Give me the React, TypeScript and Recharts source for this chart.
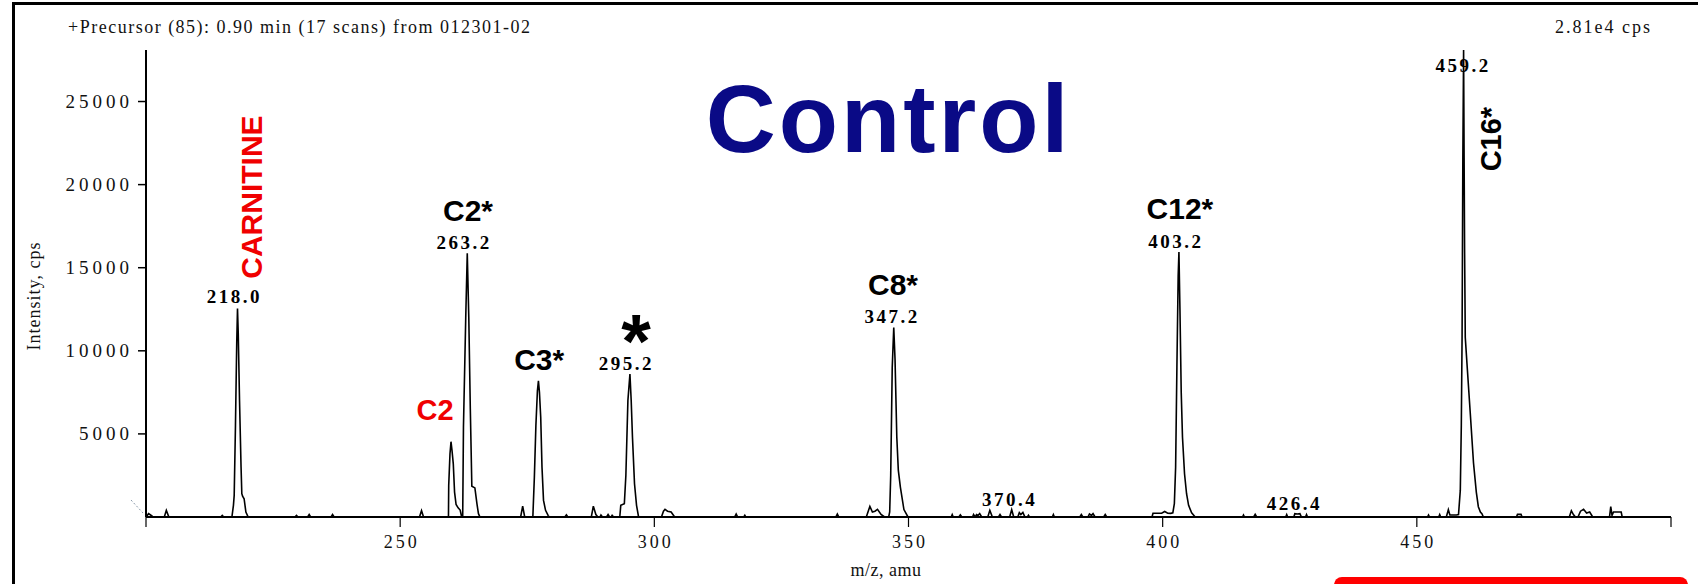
import { LineChart, Line, XAxis, YAxis, ReferenceDot } from "recharts"

type Pt = [number, number]

// axis setup
const xTicks = [200, 250, 300, 350, 400, 450, 500]
const xLabeled = [250, 300, 350, 400, 450]
const yTicks = [5000, 10000, 15000, 20000, 25000]
const fullScale = 28100

// baseline noise, low mass end
const noiseLow: Pt[] = [
  [200, 0], [200.5, 200], [200.9, 120], [201.4, 0],
  [203.6, 0], [204.0, 400], [204.5, 0],
  [214.7, 0], [215.0, 100], [215.3, 0],
  [229.3, 0], [229.6, 100], [229.9, 0],
  [231.8, 0], [232.1, 150], [232.4, 0],
  [236.4, 0], [236.7, 150], [237.0, 0],
  [253.8, 0], [254.2, 380], [254.6, 0],
]

const peak218: Pt[] = [
  [216.9, 0], [217.2, 700], [217.35, 1300], [217.6, 5500], [217.85, 10500], [218.0, 12550],
  [218.15, 11000], [218.4, 7000], [218.7, 3000], [218.85, 1400], [219.0, 1250], [219.3, 1100],
  [219.65, 300], [220.1, 0],
]

const peakC2: Pt[] = [
  [259.5, 0], [259.55, 1900], [259.8, 3800], [260.0, 4530], [260.2, 4000], [260.45, 3200],
  [260.7, 1500], [261.0, 750], [261.4, 550], [261.8, 420], [262.1, 0],
]

const peak263: Pt[] = [
  [262.3, 0], [262.45, 5400], [262.9, 12000], [263.2, 15870], [263.5, 12000], [263.8, 6500],
  [264.1, 1850], [264.7, 1750], [265.1, 800], [265.4, 200], [265.7, 0],
]

const noiseMid: Pt[] = [
  [273.7, 0], [274.1, 650], [274.5, 0],
  [282.4, 0], [282.7, 130], [283.0, 0],
  [287.6, 0], [288.0, 650], [288.5, 150], [288.9, 0],
  [289.3, 0], [289.5, 120], [289.8, 0],
  [290.6, 0], [290.9, 150], [291.2, 0],
  [291.5, 0], [291.7, 100], [292.0, 0],
]

const peakC3: Pt[] = [
  [276.1, 0], [276.4, 2400], [276.7, 5500], [277.0, 7600], [277.2, 8200], [277.4, 7500],
  [277.65, 6000], [277.9, 3000], [278.2, 1000], [278.6, 400], [279.1, 100], [279.3, 0],
]

const peak295: Pt[] = [
  [293.2, 0], [293.4, 700], [294.1, 800], [294.4, 2500], [294.8, 7000], [295.2, 8600],
  [295.45, 7000], [295.7, 4800], [296.1, 2000], [296.5, 700], [296.9, 0],
]

const noise300s: Pt[] = [
  [301.4, 0], [301.8, 350], [302.1, 460], [302.6, 350], [303.3, 300], [304.0, 0],
  [315.8, 0], [316.1, 180], [316.4, 0],
  [317.6, 0], [317.8, 100], [318.0, 0],
  [335.7, 0], [336.0, 180], [336.3, 0],
  [341.7, 0], [342.4, 640], [342.9, 300], [343.4, 350], [343.9, 460], [344.6, 150], [345.3, 0],
]

const peak347: Pt[] = [
  [346.1, 0], [346.3, 300], [346.5, 2500], [346.8, 9000], [347.1, 11400], [347.35, 9500],
  [347.7, 4800], [348.0, 2800], [348.4, 1800], [349.1, 450], [349.9, 0],
]

const noise360s: Pt[] = [
  [358.4, 0], [358.6, 150], [358.8, 0],
  [359.9, 0], [360.2, 130], [360.5, 0],
  [362.6, 0], [362.8, 150], [363.1, 0], [363.4, 150], [363.7, 100], [364.0, 200], [364.4, 0],
  [365.6, 0], [366.0, 400], [366.5, 0],
  [367.7, 0], [368.0, 150], [368.3, 0],
  [369.9, 0], [370.3, 440], [370.7, 0],
  [371.5, 0], [371.8, 260], [372.1, 150], [372.5, 280], [372.9, 0],
  [373.4, 0], [373.6, 100], [373.8, 0],
  [378.3, 0], [378.5, 150], [378.7, 0],
  [383.7, 0], [384.0, 150], [384.3, 0],
  [385.3, 0], [385.6, 180], [386.0, 100], [386.3, 200], [386.7, 0],
  [388.4, 0], [388.7, 150], [389.0, 0],
  [397.9, 0], [398.1, 230], [399.8, 230], [400.4, 330], [401.0, 230], [401.6, 220],
]

const peak403: Pt[] = [
  [402.0, 250], [402.3, 800], [402.55, 3000], [402.8, 9000], [403.05, 14500], [403.2, 15950],
  [403.4, 12500], [403.65, 7500], [403.9, 4800], [404.3, 2600], [404.7, 1400], [405.1, 700],
  [405.7, 250], [406.4, 0],
]

const noise420s: Pt[] = [
  [415.7, 0], [415.9, 120], [416.1, 0],
  [417.9, 0], [418.2, 160], [418.5, 0],
  [424.2, 0], [424.4, 150], [424.6, 0],
  [425.8, 0], [426.0, 200], [426.5, 180], [427.0, 200], [427.3, 0],
  [428.1, 0], [428.3, 150], [428.5, 0],
  [452.1, 0], [452.3, 120], [452.5, 0],
  [454.3, 0], [454.5, 150], [454.7, 0],
  [455.8, 0], [456.2, 440], [456.5, 120], [457.8, 120],
]

const peak459: Pt[] = [
  [458.2, 150], [458.55, 1600], [458.75, 5500], [458.9, 10800], [459.05, 21500], [459.2, 28100],
  [459.3, 21600], [459.4, 15900], [459.53, 10800], [459.85, 9300], [460.5, 6300], [461.15, 3250],
  [461.7, 1500], [462.1, 620], [462.5, 300], [462.8, 200], [463.1, 0],
]

const noiseHigh: Pt[] = [
  [469.6, 0], [469.8, 160], [470.5, 160], [470.7, 0],
  [480.0, 0], [480.4, 380], [480.8, 150], [481.2, 0],
  [481.7, 0], [482.2, 350], [482.8, 460], [483.4, 240], [484.0, 300], [484.6, 0],
  [487.9, 0], [488.15, 620], [488.4, 100], [488.7, 300], [490.2, 300], [490.4, 0],
  [500, 0],
]

const spectrum = [
  ...noiseLow, ...peak218, ...peakC2, ...peak263, ...noiseMid, ...peakC3, ...peak295,
  ...noise300s, ...peak347, ...noise360s, ...peak403, ...noise420s, ...peak459, ...noiseHigh,
]
  .sort((a, b) => a[0] - b[0])
  .map(([mz, i]) => ({ mz, i }))

// annotations: m/z and intensity where the text baseline sits
const peakTags = [
  { mz: 217.4, at: 12900, text: "218.0" },
  { mz: 262.6, at: 16150, text: "263.2" },
  { mz: 294.5, at: 8850, text: "295.2" },
  { mz: 346.8, at: 11700, text: "347.2" },
  { mz: 369.9, at: 670, text: "370.4" },
  { mz: 402.6, at: 16200, text: "403.2" },
  { mz: 425.9, at: 440, text: "426.4" },
  { mz: 459.1, at: 26750, text: "459.2" },
]
const blackTags = [
  { mz: 263.35, at: 17810, text: "C2*" },
  { mz: 277.35, at: 8870, text: "C3*" },
  { mz: 346.95, at: 13360, text: "C8*" },
  { mz: 403.4, at: 17930, text: "C12*" },
]
const redTags = [{ mz: 256.85, at: 5840, text: "C2" }]
const redVerticalTags = [{ mz: 222.8, at: 19250, text: "CARNITINE" }]
const blackVerticalTags = [{ mz: 466.6, at: 22740, text: "C16*" }]
const starTags = [{ mz: 296.4, at: 9050, text: "*" }]
const headTags = [{ mz: 345.8, at: 21985, text: "Control" }]

const serif = "'Liberation Serif', 'Times New Roman', serif"
const sans = "'Liberation Sans', Arial, sans-serif"

const XTick = (props: any) => {
  const { x, y, payload } = props
  if (!xLabeled.includes(payload.value)) return <g />
  return (
    <text x={x + 1.5} y={y + 19} textAnchor="middle" fontFamily={serif} fontSize={18} letterSpacing={3} fill="#111">
      {payload.value}
    </text>
  )
}

const YTick = (props: any) => {
  const { x, y, payload } = props
  return (
    <text x={x - 3} y={y + 6} textAnchor="end" fontFamily={serif} fontSize={19} letterSpacing={4} fill="#111">
      {payload.value}
    </text>
  )
}

function tag(key: string, mz: number, at: number, render: (cx: number, cy: number) => any) {
  return (
    <ReferenceDot
      key={key}
      x={mz}
      y={at}
      r={1}
      ifOverflow="visible"
      shape={(p: any) => render(p.cx, p.cy)}
    />
  )
}

export default function App() {
  return (
    <div style={{ position: "absolute", left: 0, top: 0, width: 1698, height: 584, overflow: "hidden", background: "#fff" }}>
      <LineChart width={1698} height={584} data={spectrum} margin={{ top: 50, right: 27, bottom: 27, left: 86 }}>
        <XAxis
          dataKey="mz"
          type="number"
          domain={[200, 500]}
          ticks={xTicks}
          interval={0}
          height={40}
          allowDataOverflow
          axisLine={{ stroke: "#000", strokeWidth: 2 }}
          tickLine={{ stroke: "#000", strokeWidth: 1.2 }}
          tickSize={10}
          tick={XTick}
        />
        <YAxis
          type="number"
          domain={[0, fullScale]}
          ticks={yTicks}
          interval={0}
          width={60}
          allowDataOverflow
          axisLine={{ stroke: "#000", strokeWidth: 2 }}
          tickLine={{ stroke: "#000", strokeWidth: 1.5 }}
          tickSize={8}
          tick={YTick}
        />
        <Line
          dataKey="i"
          type="linear"
          stroke="#000"
          strokeWidth={1.6}
          dot={false}
          activeDot={false}
          isAnimationActive={false}
        />
        {peakTags.map((t) =>
          tag("p" + t.text, t.mz, t.at, (cx, cy) => (
            <text x={cx} y={cy} textAnchor="middle" fontFamily={serif} fontWeight="bold" fontSize={19} letterSpacing={2.5} fill="#000">
              {t.text}
            </text>
          ))
        )}
        {blackTags.map((t) =>
          tag("b" + t.text, t.mz, t.at, (cx, cy) => (
            <text x={cx} y={cy} textAnchor="middle" fontFamily={sans} fontWeight="bold" fontSize={30} fill="#000">
              {t.text}
            </text>
          ))
        )}
        {redTags.map((t) =>
          tag("r" + t.text, t.mz, t.at, (cx, cy) => (
            <text x={cx} y={cy} textAnchor="middle" fontFamily={sans} fontWeight="bold" fontSize={29} fill="#f00000">
              {t.text}
            </text>
          ))
        )}
        {redVerticalTags.map((t) =>
          tag("rv" + t.text, t.mz, t.at, (cx, cy) => (
            <text x={cx} y={cy} transform={`rotate(-90 ${cx} ${cy})`} textAnchor="middle" fontFamily={sans} fontWeight="bold" fontSize={30} fill="#f00000">
              {t.text}
            </text>
          ))
        )}
        {blackVerticalTags.map((t) =>
          tag("bv" + t.text, t.mz, t.at, (cx, cy) => (
            <text x={cx} y={cy} transform={`rotate(-90 ${cx} ${cy})`} textAnchor="middle" fontFamily={sans} fontWeight="bold" fontSize={29} fill="#000">
              {t.text}
            </text>
          ))
        )}
        {starTags.map((t) =>
          tag("s" + t.mz, t.mz, t.at, (cx, cy) => (
            <text x={cx} y={cy} textAnchor="middle" fontFamily={sans} fontWeight="bold" fontSize={76} fill="#000">
              {t.text}
            </text>
          ))
        )}
        {headTags.map((t) =>
          tag("h" + t.text, t.mz, t.at, (cx, cy) => (
            <text x={cx + 1.5} y={cy} textAnchor="middle" fontFamily={sans} fontWeight="bold" fontSize={97} letterSpacing={3} fill="#0a0a86">
              {t.text}
            </text>
          ))
        )}
      </LineChart>
      <svg width={1698} height={584} style={{ position: "absolute", left: 0, top: 0, pointerEvents: "none" }}>
        <line x1={12} y1={3.5} x2={1698} y2={3.5} stroke="#000" strokeWidth={3} />
        <line x1={13.5} y1={2} x2={13.5} y2={584} stroke="#000" strokeWidth={3} />
        <text x={68} y={33} fontFamily={serif} fontSize={18} letterSpacing={1.5} fill="#111">
          +Precursor (85): 0.90 min (17 scans) from 012301-02
        </text>
        <text x={1652} y={33} textAnchor="end" fontFamily={serif} fontSize={18} letterSpacing={2} fill="#111">
          2.81e4 cps
        </text>
        <text x={40} y={296} transform="rotate(-90 40 296)" textAnchor="middle" fontFamily={serif} fontSize={18} letterSpacing={1} fill="#111">
          Intensity, cps
        </text>
        <text x={886} y={576} textAnchor="middle" fontFamily={serif} fontSize={18} letterSpacing={0.5} fill="#111">
          m/z, amu
        </text>
        <line x1={131} y1={500} x2={143} y2={513} stroke="#8a9aaa" strokeWidth={1} strokeDasharray="2 2" />
        <rect x={1334} y={577} width={354} height={20} rx={8} fill="#ff0000" />
      </svg>
    </div>
  )
}
